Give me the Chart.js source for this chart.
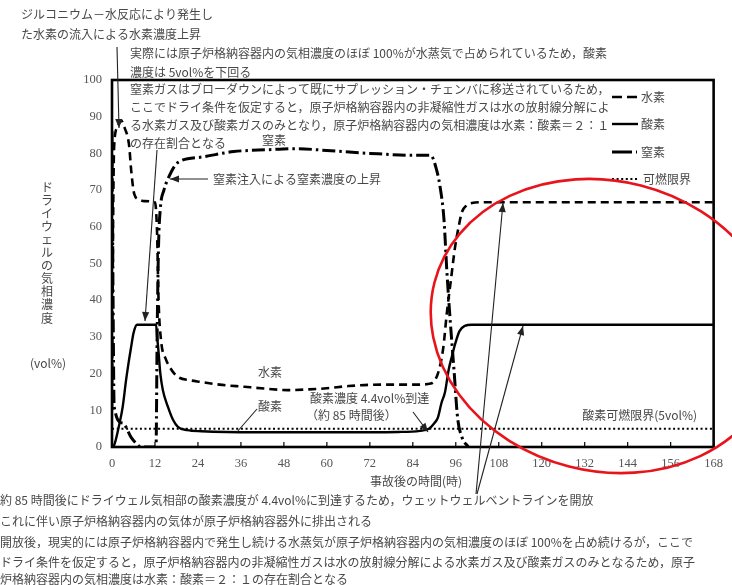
<!DOCTYPE html>
<html><head><meta charset="utf-8">
<script src="https://cdn.jsdelivr.net/npm/chart.js@4.4.1/dist/chart.umd.min.js"></script>
<style>html,body{margin:0;padding:0;background:#fff;}#wrap{width:732px;height:585px;position:relative;}</style>
</head><body><div id="wrap"><canvas id="c" width="732" height="585"></canvas></div>
<script>
// ---- data (hours after accident, vol%) ----
const xTicksMax = 168;
const xStep = 12;
const yTicksMax = 100;
const yStep = 10;

const h2Time = [0, 0.3, 0.6, 1.5, 2.5, 3.5, 4.8, 5.3, 6.2, 7.5, 9, 12, 12.6, 13.0, 13.7, 15, 16, 17.4, 19, 21, 25, 30, 37, 43, 49, 55, 60, 66, 75, 85, 89, 91, 92.5, 93.5, 94.7, 95.8, 96.8, 97.7, 99, 100.5, 103, 168];
const h2Vol  = [10, 60, 82, 87, 89, 87, 82, 76, 69, 67.5, 67, 66.7, 58, 40, 29, 24, 22, 20, 18.8, 18.3, 17.7, 17.0, 16.4, 15.9, 15.5, 15.7, 16.0, 16.6, 17.0, 17.0, 17.3, 20, 27, 36.5, 46, 54.5, 60, 64, 65.8, 66.5, 66.7, 66.7];

const o2Time = [0, 0.6, 2, 3, 3.9, 4.8, 5.3, 6, 7, 12.3, 12.6, 12.9, 13.5, 14.2, 15.6, 17, 18.4, 21, 25, 40, 60, 80, 86, 88.5, 90, 91, 92, 93, 94, 95, 95.8, 97, 98.5, 100.5, 168];
const o2Vol  = [0, 0.5, 6, 11, 18, 24, 27, 31, 33.3, 33.3, 30, 27, 20, 15.5, 11, 7.5, 5.5, 4.6, 4.3, 4.0, 4.0, 4.1, 4.4, 5, 6.5, 8, 12, 15, 21, 25, 28, 31.5, 33, 33.3, 33.3];

const n2Time = [0, 0.3, 0.6, 3, 5.3, 7.2, 8, 12.3, 12.6, 13.0, 13.5, 14.5, 15.6, 18.4, 25, 34, 43.6, 51, 60, 72, 84, 89, 90.5, 91.6, 92.7, 93.5, 94.4, 95.5, 96.5, 97.7, 99.5];
const n2Vol  = [86, 40, 11, 6.5, 2.7, 0.5, 0, 0, 30, 55, 65, 70, 73, 77.5, 79, 80.5, 81, 81.3, 80.8, 80, 79.5, 79.5, 76, 71, 62, 48, 35, 21, 8, 2.7, 0];

const limitTime = [0, 168];
const limitVol  = [5, 5];

const seriesNames = ['水素', '酸素', '窒素', '可燃限界'];

function pts(t, v) { return t.map((x, i) => ({ x: x, y: v[i] })); }

const JP = '"Noto Sans CJK JP", sans-serif';
const SERIF = '"Liberation Serif", "DejaVu Serif", serif';
const TXT = '#484848';

const styles = [
  { dash: [8, 5], width: 2.6 },
  { dash: [], width: 2.4 },
  { dash: [13, 4, 2.5, 4], width: 3 },
  { dash: [2, 2.6], width: 2 }
];

function arrow(ctx, x1, y1, x2, y2, head) {
  ctx.save();
  ctx.strokeStyle = '#222'; ctx.fillStyle = '#222'; ctx.lineWidth = 1.1; ctx.setLineDash([]);
  ctx.beginPath(); ctx.moveTo(x1, y1); ctx.lineTo(x2, y2); ctx.stroke();
  if (head) {
    const a = Math.atan2(y2 - y1, x2 - x1), L = 9, W = 3.6;
    ctx.beginPath();
    ctx.moveTo(x2, y2);
    ctx.lineTo(x2 - L * Math.cos(a) + W * Math.sin(a), y2 - L * Math.sin(a) - W * Math.cos(a));
    ctx.lineTo(x2 - L * Math.cos(a) - W * Math.sin(a), y2 - L * Math.sin(a) + W * Math.cos(a));
    ctx.closePath(); ctx.fill();
  }
  ctx.restore();
}

const overlay = {
  id: 'overlay',
  afterDraw(chart) {
    const ctx = chart.ctx, a = chart.chartArea, xs = chart.scales.x;
    ctx.save();
    // frame
    ctx.strokeStyle = '#000'; ctx.lineWidth = 2.6; ctx.setLineDash([]);
    ctx.strokeRect(a.left, a.top, a.right - a.left, a.bottom - a.top);
    // inward x ticks
    ctx.lineWidth = 1.2;
    for (let v = 0; v <= xTicksMax; v += xStep) {
      const px = xs.getPixelForValue(v);
      ctx.beginPath(); ctx.moveTo(px, a.bottom); ctx.lineTo(px, a.bottom - 5); ctx.stroke();
    }
    // texts
    ctx.fillStyle = TXT; ctx.textBaseline = 'middle'; ctx.textAlign = 'left';
    ctx.font = '12px ' + JP;
    ctx.fillText('ジルコニウム－水反応により発生し', 21, 14);
    ctx.fillText('た水素の流入による水素濃度上昇', 21, 34);
    ctx.fillText('実際には原子炉格納容器内の気相濃度のほぼ 100%が水蒸気で占められているため，酸素', 130, 53);
    ctx.fillText('濃度は 5vol%を下回る', 130, 72);
    ctx.fillText('窒素ガスはブローダウンによって既にサプレッション・チェンバに移送されているため，', 130, 89);
    ctx.fillText('ここでドライ条件を仮定すると，原子炉格納容器内の非凝縮性ガスは水の放射線分解によ', 130, 107);
    ctx.fillText('る水素ガス及び酸素ガスのみとなり，原子炉格納容器内の気相濃度は水素：酸素＝２：１', 130, 125);
    ctx.fillText('の存在割合となる', 130, 143);
    ctx.fillText('窒素', 262, 140);
    ctx.fillText('窒素注入による窒素濃度の上昇', 213, 179);
    ctx.fillText('水素', 258, 372);
    ctx.fillText('酸素', 258, 406);
    ctx.fillText('酸素濃度 4.4vol%到達', 310, 398);
    ctx.fillText('（約 85 時間後）', 306, 415);
    ctx.textAlign = 'right';
    ctx.fillText('酸素可燃限界(5vol%)', 697, 415);
    ctx.textAlign = 'center';
    ctx.fillText('事故後の時間(時)', 416, 481);
    // y title
    const yt = 'ドライウェルの気相濃度';
    for (let i = 0; i < yt.length; i++) ctx.fillText(yt[i], 47, 187 + i * 13.1);
    ctx.fillText('(vol%)', 48, 363);
    // bottom notes
    ctx.textAlign = 'left';
    ctx.fillText('約 85 時間後にドライウェル気相部の酸素濃度が 4.4vol%に到達するため，ウェットウェルベントラインを開放', 0, 500);
    ctx.fillText('これに伴い原子炉格納容器内の気体が原子炉格納容器外に排出される', 0, 521);
    ctx.fillText('開放後，現実的には原子炉格納容器内で発生し続ける水蒸気が原子炉格納容器内の気相濃度のほぼ 100%を占め続けるが，ここで', 0, 542);
    ctx.fillText('ドライ条件を仮定すると，原子炉格納容器内の非凝縮性ガスは水の放射線分解による水素ガス及び酸素ガスのみとなるため，原子', 0, 562);
    ctx.fillText('炉格納容器内の気相濃度は水素：酸素＝２：１の存在割合となる', 0, 579);
    // legend
    const ly = [97, 124, 152, 179];
    for (let i = 0; i < 4; i++) {
      ctx.strokeStyle = '#000'; ctx.lineWidth = styles[i].width; ctx.setLineDash(styles[i].dash);
      if (i === 0) ctx.setLineDash([10, 5]);
      if (i === 2) ctx.setLineDash([20, 4, 2.5, 4]);
      ctx.beginPath(); ctx.moveTo(612, ly[i]); ctx.lineTo(i === 2 ? 637 : 638, ly[i]); ctx.stroke();
      ctx.setLineDash([]);
      ctx.fillStyle = TXT; ctx.textAlign = 'left';
      ctx.fillText(seriesNames[i], i === 3 ? 643 : 641, ly[i]);
    }
    // arrows
    arrow(ctx, 117, 47, 119, 128, true);
    arrow(ctx, 208, 179, 170, 179, true);
    arrow(ctx, 157, 150, 145, 321, true);
    arrow(ctx, 257, 409, 237, 432, false);
    arrow(ctx, 413, 412, 428, 432, true);
    arrow(ctx, 476, 494, 503, 203, true);
    arrow(ctx, 477, 494, 523, 326, true);
    // red ellipse
    ctx.strokeStyle = '#e8141c'; ctx.lineWidth = 2.6; ctx.setLineDash([]);
    ctx.beginPath(); ctx.ellipse(605, 326, 176, 145, 0.25, 0, Math.PI * 2); ctx.stroke();
    ctx.restore();
  }
};

const mk = (label, t, v, i) => ({
  label: label, data: pts(t, v), borderColor: '#000', borderWidth: styles[i].width,
  borderDash: styles[i].dash, pointRadius: 0, fill: false,
  cubicInterpolationMode: i === 3 ? 'default' : 'monotone', tension: 0.4, borderCapStyle: 'butt'
});

new Chart(document.getElementById('c'), {
  type: 'line',
  data: { datasets: [
    mk(seriesNames[0], h2Time, h2Vol, 0),
    mk(seriesNames[1], o2Time, o2Vol, 1),
    mk(seriesNames[2], n2Time, n2Vol, 2),
    mk(seriesNames[3], limitTime, limitVol, 3)
  ]},
  options: {
    responsive: false, animation: false, devicePixelRatio: 1,
    layout: { padding: { top: 80, right: 18, left: 0, bottom: 0 } },
    plugins: { legend: { display: false }, tooltip: { enabled: false } },
    scales: {
      x: { type: 'linear', min: 0, max: xTicksMax,
        afterFit: s => { s.height = 138; },
        grid: { display: false, drawTicks: false }, border: { display: false },
        ticks: { stepSize: xStep, padding: 9, color: '#555', font: { family: SERIF, size: 12.5 } } },
      y: { min: 0, max: yTicksMax,
        afterFit: s => { s.width = 112; },
        grid: { display: false, drawTicks: false }, border: { display: false },
        ticks: { stepSize: yStep, padding: 10, color: '#555', font: { family: SERIF, size: 12.5 } } }
    }
  },
  plugins: [overlay]
});
</script></body></html>
